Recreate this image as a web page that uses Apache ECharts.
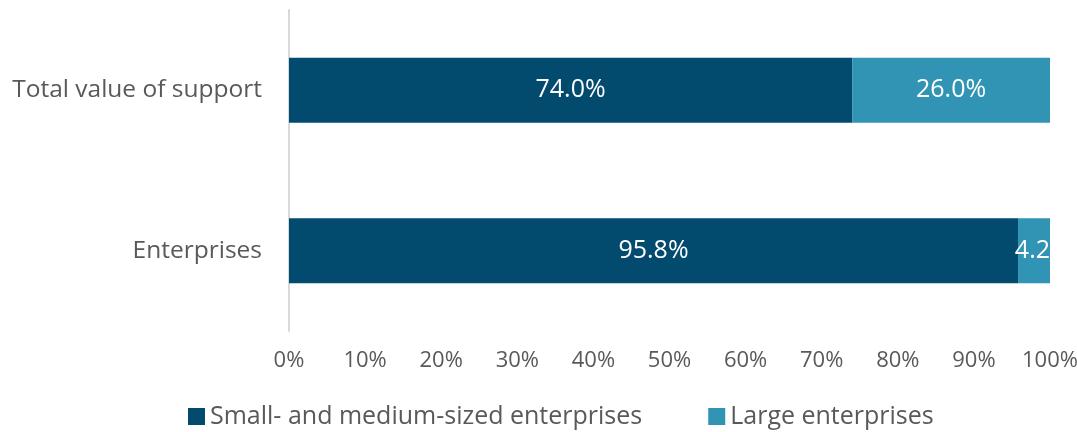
<!DOCTYPE html>
<html><head><meta charset="utf-8">
<script src="https://cdn.jsdelivr.net/npm/echarts@6/dist/echarts.min.js"></script>
<style>html,body{margin:0;padding:0;background:#fff}#c{width:1077px;height:432px}</style>
</head><body><div id="c"></div>
<script>
const categories = ['Enterprises', 'Total value of support'];
const smeValues = [95.8, 74.0];
const largeValues = [4.2, 26.0];
const largeLabels = ['4.2', '26.0%'];
const xTicks = [0, 10, 20, 30, 40, 50, 60, 70, 80, 90, 100];

const font = 'Open Sans';
const chart = echarts.init(document.getElementById('c'));
chart.setOption({
  animation: false,
  textStyle: { fontFamily: font },
  grid: { left: 289, right: 27, top: 10, bottom: 101, containLabel: false, outerBoundsMode: 'none' },
  legend: {
    top: 399, left: 183, itemWidth: 17, itemHeight: 17, itemGap: 66,
    icon: 'rect',
    textStyle: { fontFamily: font, fontSize: 25, color: '#595959' },
    data: ['Small- and medium-sized enterprises', 'Large enterprises']
  },
  xAxis: {
    type: 'value', min: 0, max: 100, interval: 10,
    axisLine: { show: false }, axisTick: { show: false }, splitLine: { show: false },
    axisLabel: { formatter: v => xTicks.includes(v) ? v + '%' : '', fontSize: 22, color: '#595959', margin: 19, fontFamily: font }
  },
  yAxis: {
    type: 'category', data: categories,
    axisLine: { show: true, lineStyle: { color: '#d9d9d9', width: 2 } },
    axisTick: { show: false },
    axisLabel: { fontSize: 24.5, color: '#595959', margin: 27, fontFamily: font }
  },
  series: [
    {
      name: 'Small- and medium-sized enterprises', type: 'bar', stack: 't', barWidth: 65,
      itemStyle: { color: '#024a6e' },
      data: smeValues,
      label: { show: true, position: 'inside', color: '#fff', fontSize: 25, fontFamily: font, formatter: p => p.value.toFixed(1) + '%' }
    },
    {
      name: 'Large enterprises', type: 'bar', stack: 't', barWidth: 65,
      itemStyle: { color: '#3194b4' },
      data: largeValues.map((v, i) => ({
        value: v,
        label: i === 0 ? { position: 'insideRight', distance: 0 } : { position: 'inside' }
      })),
      label: { show: true, color: '#fff', fontSize: 25, fontFamily: font,
        formatter: p => largeLabels[p.dataIndex] }
    }
  ]
});
</script></body></html>
